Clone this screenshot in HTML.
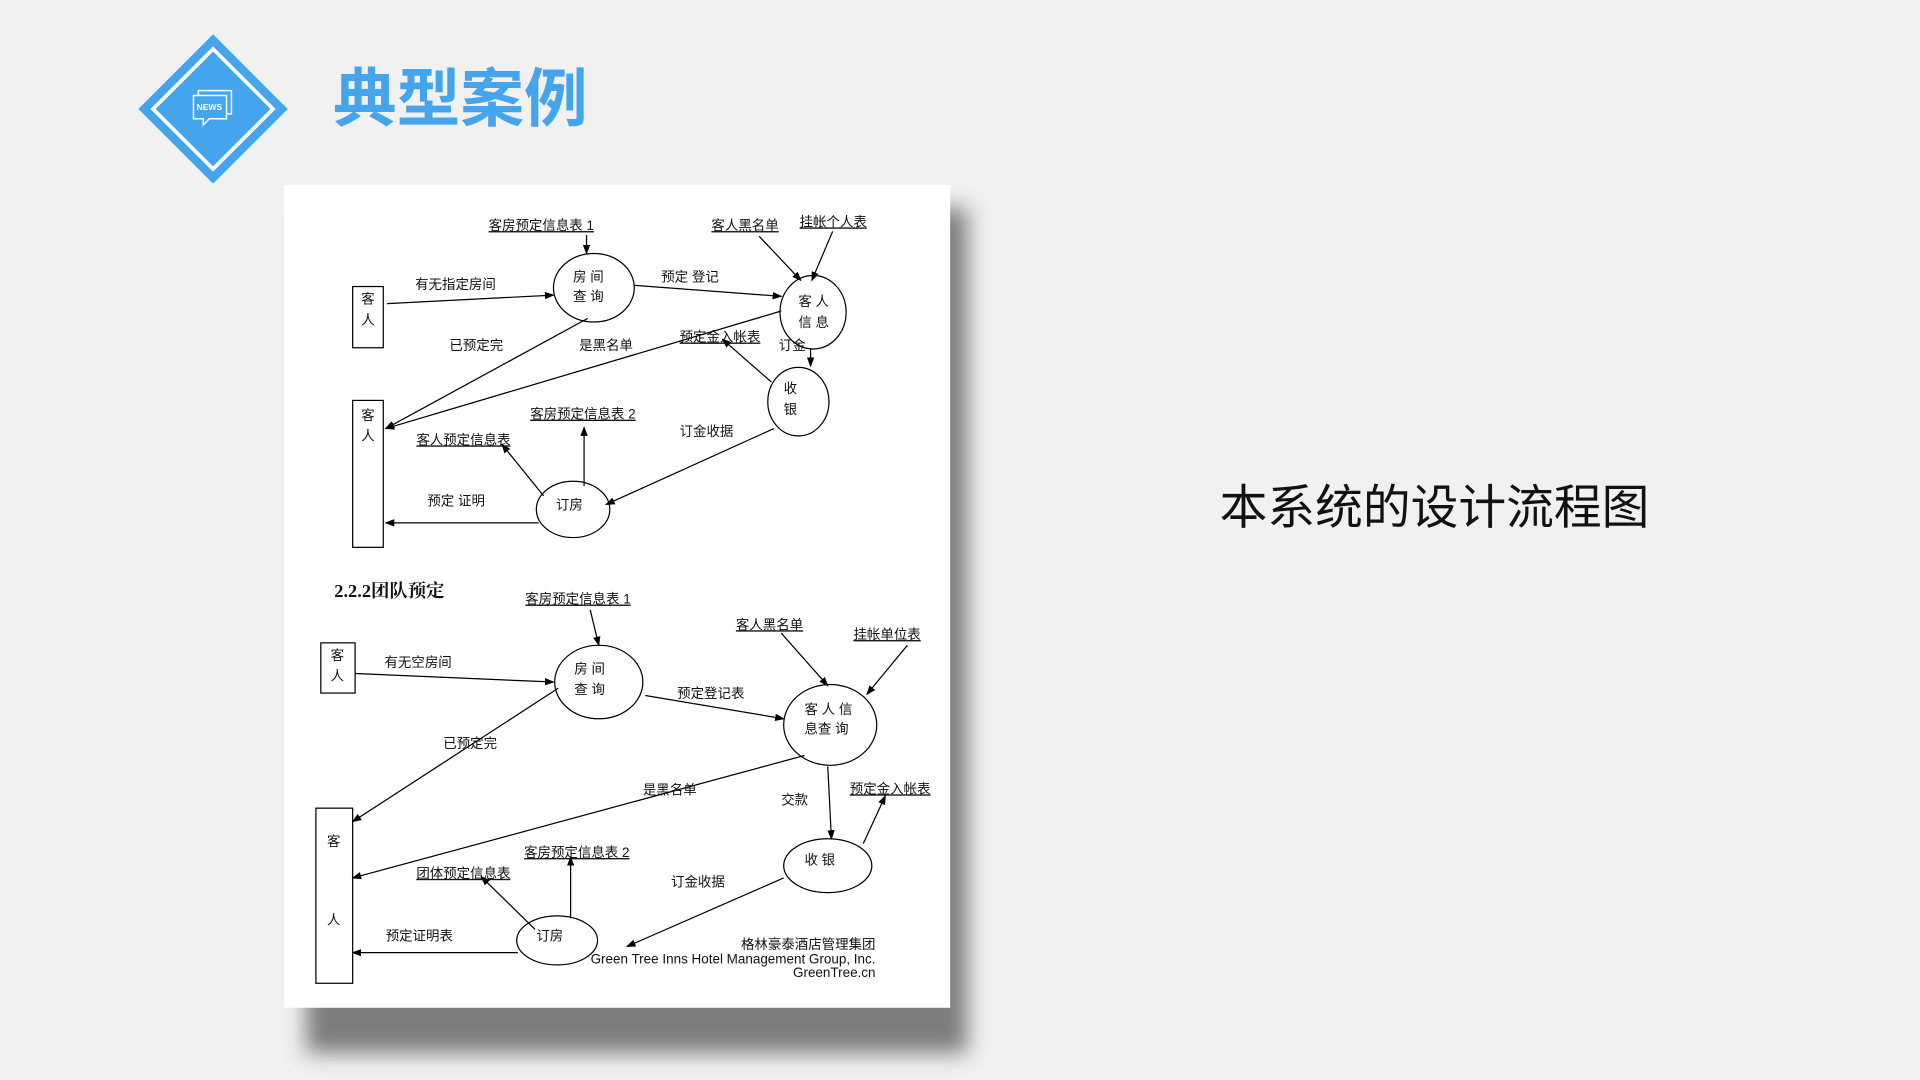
<!DOCTYPE html>
<html><head><meta charset="utf-8"><style>
html,body{margin:0;padding:0;background:#f1f1f1;width:1920px;height:1080px;overflow:hidden}
svg{display:block}
.t{font-family:"Liberation Sans","Noto Sans CJK SC",sans-serif;font-size:11px;fill:#111;dominant-baseline:middle}
.u{text-decoration:underline}
</style></head><body>
<svg width="1920" height="1080" viewBox="0 0 1568 882" xmlns="http://www.w3.org/2000/svg">
<defs>
<marker id="a" markerWidth="8" markerHeight="8" refX="7" refY="4" orient="auto" markerUnits="userSpaceOnUse"><path d="M0,1 L8,4 L0,7 z" fill="#000"/></marker>
<filter id="sh" x="-10%" y="-10%" width="130%" height="130%"><feGaussianBlur stdDeviation="9"/></filter>
</defs>
<rect width="1568" height="882" fill="#f1f1f1"/>
<!-- logo -->
<path d="M174,28 L235,89 L174,150 L113,89 Z" fill="#45a5ec"/>
<path d="M174,40 L223,89 L174,138 L125,89 Z" fill="none" stroke="#fff" stroke-width="3"/>
<rect x="162" y="74" width="27" height="19" fill="none" stroke="#fff" stroke-width="1.2"/>
<path d="M158,78 h27 v19 h-14 l-5,5 v-5 h-8 z" fill="#45a5ec" stroke="#fff" stroke-width="1.2"/>
<text x="171" y="88" font-family="Liberation Sans,sans-serif" font-size="7" font-weight="bold" fill="#fff" text-anchor="middle" dominant-baseline="middle">NEWS</text>
<text x="272" y="99" font-family="Liberation Sans,'Noto Sans CJK SC',sans-serif" font-size="52" font-weight="bold" fill="#45a5ec">典型案例</text>
<text x="996" y="428" font-family="Liberation Sans,'Noto Sans CJK SC',sans-serif" font-size="39" fill="#111">本系统的设计流程图</text>
<!-- paper -->
<rect x="250" y="170" width="540" height="690" fill="#555" opacity="0.75" filter="url(#sh)"/>
<rect x="232" y="151" width="544" height="672" fill="#fff"/>
<g stroke="#000" stroke-width="1" fill="none">
<!-- top -->
<ellipse cx="485" cy="235" rx="33" ry="28"/>
<ellipse cx="664" cy="255" rx="27" ry="30"/>
<ellipse cx="652" cy="328" rx="25" ry="28"/>
<ellipse cx="468" cy="416" rx="30" ry="23"/>
<rect x="288" y="234" width="25" height="50"/>
<rect x="288" y="327" width="25" height="120"/>
<line x1="479" y1="192" x2="479" y2="207" marker-end="url(#a)"/>
<line x1="316" y1="248" x2="452" y2="241" marker-end="url(#a)"/>
<line x1="518" y1="233" x2="638" y2="242" marker-end="url(#a)"/>
<line x1="620" y1="193" x2="654" y2="229" marker-end="url(#a)"/>
<line x1="680" y1="189" x2="663" y2="229" marker-end="url(#a)"/>
<line x1="662" y1="285" x2="662" y2="299" marker-end="url(#a)"/>
<line x1="630" y1="312" x2="590" y2="277" marker-end="url(#a)"/>
<line x1="480" y1="260" x2="315" y2="350" marker-end="url(#a)"/>
<line x1="638" y1="254" x2="315" y2="350" marker-end="url(#a)"/>
<line x1="632" y1="350" x2="495" y2="412" marker-end="url(#a)"/>
<line x1="477" y1="397" x2="477" y2="349" marker-end="url(#a)"/>
<line x1="444" y1="405" x2="410" y2="363" marker-end="url(#a)"/>
<line x1="440" y1="427" x2="315" y2="427" marker-end="url(#a)"/>
<!-- bottom -->
<ellipse cx="489" cy="557" rx="36" ry="30"/>
<ellipse cx="678" cy="592" rx="38" ry="33"/>
<ellipse cx="676" cy="707" rx="36" ry="22"/>
<ellipse cx="455" cy="768" rx="33" ry="20"/>
<rect x="262" y="525" width="28" height="41"/>
<rect x="258" y="660" width="30" height="143"/>
<line x1="482" y1="498" x2="489" y2="527" marker-end="url(#a)"/>
<line x1="290" y1="550" x2="452" y2="557" marker-end="url(#a)"/>
<line x1="527" y1="568" x2="640" y2="587" marker-end="url(#a)"/>
<line x1="638" y1="517" x2="676" y2="560" marker-end="url(#a)"/>
<line x1="741" y1="527" x2="708" y2="567" marker-end="url(#a)"/>
<line x1="657" y1="617" x2="288" y2="717" marker-end="url(#a)"/>
<line x1="456" y1="562" x2="288" y2="671" marker-end="url(#a)"/>
<line x1="676" y1="626" x2="679" y2="685" marker-end="url(#a)"/>
<line x1="705" y1="689" x2="723" y2="650" marker-end="url(#a)"/>
<line x1="640" y1="717" x2="512" y2="773" marker-end="url(#a)"/>
<line x1="466" y1="750" x2="466" y2="700" marker-end="url(#a)"/>
<line x1="437" y1="759" x2="393" y2="716" marker-end="url(#a)"/>
<line x1="423" y1="778" x2="288" y2="778" marker-end="url(#a)"/>
</g>
<g class="t">
<text class="t u" x="399" y="185">客房预定信息表 1</text>
<text class="t" x="468" y="227">房 间</text><text class="t" x="468" y="243">查 询</text>
<text class="t" x="295" y="245">客</text><text class="t" x="295" y="262">人</text>
<text class="t" x="339" y="233">有无指定房间</text>
<text class="t" x="540" y="227">预定 登记</text>
<text class="t u" x="581" y="185">客人黑名单</text>
<text class="t u" x="653" y="182">挂帐个人表</text>
<text class="t" x="652" y="247">客 人</text><text class="t" x="652" y="264">信 息</text>
<text class="t" x="636" y="283">订金</text>
<text class="t" x="640" y="318">收</text><text class="t" x="640" y="335">银</text>
<text class="t u" x="555" y="276">预定金入帐表</text>
<text class="t" x="295" y="340">客</text><text class="t" x="295" y="357">人</text>
<text class="t" x="367" y="283">已预定完</text>
<text class="t" x="473" y="283">是黑名单</text>
<text class="t" x="454" y="413">订房</text>
<text class="t" x="555" y="353">订金收据</text>
<text class="t u" x="433" y="339">客房预定信息表 2</text>
<text class="t u" x="340" y="360">客人预定信息表</text>
<text class="t" x="349" y="410">预定 证明</text>
<text x="273" y="484" font-family="Liberation Serif,'Noto Serif CJK SC',serif" font-size="15" font-weight="bold" fill="#111">2.2.2团队预定</text>
<text class="t u" x="429" y="490">客房预定信息表 1</text>
<text class="t" x="469" y="547">房 间</text><text class="t" x="469" y="564">查 询</text>
<text class="t" x="270" y="536">客</text><text class="t" x="270" y="553">人</text>
<text class="t" x="314" y="542">有无空房间</text>
<text class="t" x="553" y="567">预定登记表</text>
<text class="t u" x="601" y="511">客人黑名单</text>
<text class="t u" x="697" y="519">挂帐单位表</text>
<text class="t" x="657" y="580">客 人 信</text><text class="t" x="657" y="596">息查 询</text>
<text class="t" x="525" y="646">是黑名单</text>
<text class="t" x="362" y="608">已预定完</text>
<text class="t" x="267" y="688">客</text><text class="t" x="267" y="752">人</text>
<text class="t" x="638" y="654">交款</text>
<text class="t" x="657" y="703">收 银</text>
<text class="t u" x="694" y="645">预定金入帐表</text>
<text class="t" x="548" y="721">订金收据</text>
<text class="t" x="438" y="765">订房</text>
<text class="t u" x="428" y="697">客房预定信息表 2</text>
<text class="t u" x="340" y="714">团体预定信息表</text>
<text class="t" x="315" y="765">预定证明表</text>
<text class="t" x="715" y="772" text-anchor="end" font-size="9">格林豪泰酒店管理集团</text>
<text class="t" x="715" y="784" text-anchor="end" font-size="9">Green  Tree  Inns  Hotel  Management  Group,  Inc.</text>
<text class="t" x="715" y="795" text-anchor="end" font-size="9">GreenTree.cn</text>
</g>
</svg>
</body></html>
